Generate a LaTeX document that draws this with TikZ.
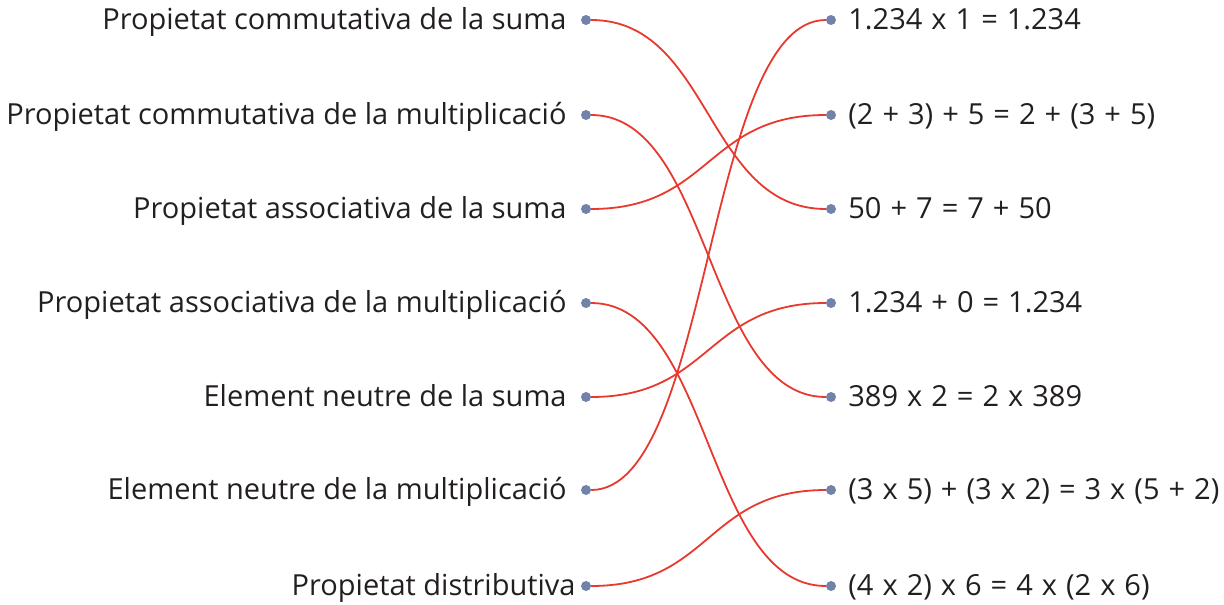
\documentclass[tikz,border=0pt]{standalone}
\usepackage{fontspec}
\setmainfont{Open Sans}
\usetikzlibrary{positioning}
\definecolor{linkred}{HTML}{E8392E}
\definecolor{dotblue}{HTML}{7282A8}
\definecolor{txtgrey}{HTML}{231F20}
\newcommand{\widespaces}{\spaceskip=9pt\relax}

\begin{document}
\begin{tikzpicture}[x=1pt,y=-1pt,
    dot/.style={circle,fill=dotblue,inner sep=0pt,minimum size=10pt},
    prop/.style={inner sep=0pt,text=txtgrey,font=\fontsize{29}{34}\selectfont},
    expr/.style={prop,execute at begin node=\widespaces},
    link/.style={linkred,line width=1.8pt,out=0,in=180,distance=120pt}]
    \useasboundingbox (0,0) rectangle (1224,605);

    % left column
    \node[dot] (l1) at (586,20)  {};
    \node[dot] (l2) at (586,115) {};
    \node[dot] (l3) at (586,209) {};
    \node[dot] (l4) at (586,303) {};
    \node[dot] (l5) at (586,397) {};
    \node[dot] (l6) at (586,490) {};
    \node[dot] (l7) at (586,586) {};

    \node[prop,left=14pt of l1,anchor=base east,yshift=-9.5pt] (p1) {Propietat commutativa de la suma};
    \node[prop,left=14pt of l2,anchor=base east,yshift=-9.5pt] (p2) {Propietat commutativa de la multiplicació};
    \node[prop,left=14pt of l3,anchor=base east,yshift=-9.5pt] (p3) {Propietat associativa de la suma};
    \node[prop,left=14pt of l4,anchor=base east,yshift=-9.5pt] (p4) {Propietat associativa de la multiplicació};
    \node[prop,left=14pt of l5,anchor=base east,yshift=-9.5pt] (p5) {Element neutre de la suma};
    \node[prop,left=14pt of l6,anchor=base east,yshift=-9.5pt] (p6) {Element neutre de la multiplicació};
    \node[prop,left=5pt of l7,anchor=base east,yshift=-9.5pt]  (p7) {Propietat distributiva};

    % right column
    \node[dot] (r1) at (831,20)  {};
    \node[dot] (r2) at (831,115) {};
    \node[dot] (r3) at (831,209) {};
    \node[dot] (r4) at (831,303) {};
    \node[dot] (r5) at (831,397) {};
    \node[dot] (r6) at (831,490) {};
    \node[dot] (r7) at (831,586) {};

    \node[expr,right=12pt of r1,anchor=base west,yshift=-9.5pt] (e1) {1.234 x 1 = 1.234};
    \node[expr,right=12pt of r2,anchor=base west,yshift=-9.5pt] (e2) {(2 + 3) + 5 = 2 + (3 + 5)};
    \node[expr,right=12pt of r3,anchor=base west,yshift=-9.5pt] (e3) {50 + 7 = 7 + 50};
    \node[expr,right=12pt of r4,anchor=base west,yshift=-9.5pt] (e4) {1.234 + 0 = 1.234};
    \node[expr,right=12pt of r5,anchor=base west,yshift=-9.5pt] (e5) {389 x 2 = 2 x 389};
    \node[expr,right=12pt of r6,anchor=base west,yshift=-9.5pt] (e6) {(3 x 5) + (3 x 2) = 3 x (5 + 2)};
    \node[expr,right=12pt of r7,anchor=base west,yshift=-9.5pt] (e7) {(4 x 2) x 6 = 4 x (2 x 6)};

    % links
    \draw[link] (l1) to (r3);
    \draw[link] (l2) to (r5);
    \draw[link] (l3) to (r2);
    \draw[link] (l4) to (r7);
    \draw[link] (l5) to (r4);
    \draw[link] (l6) to (r1);
    \draw[link] (l7) to (r6);
\end{tikzpicture}
\end{document}
